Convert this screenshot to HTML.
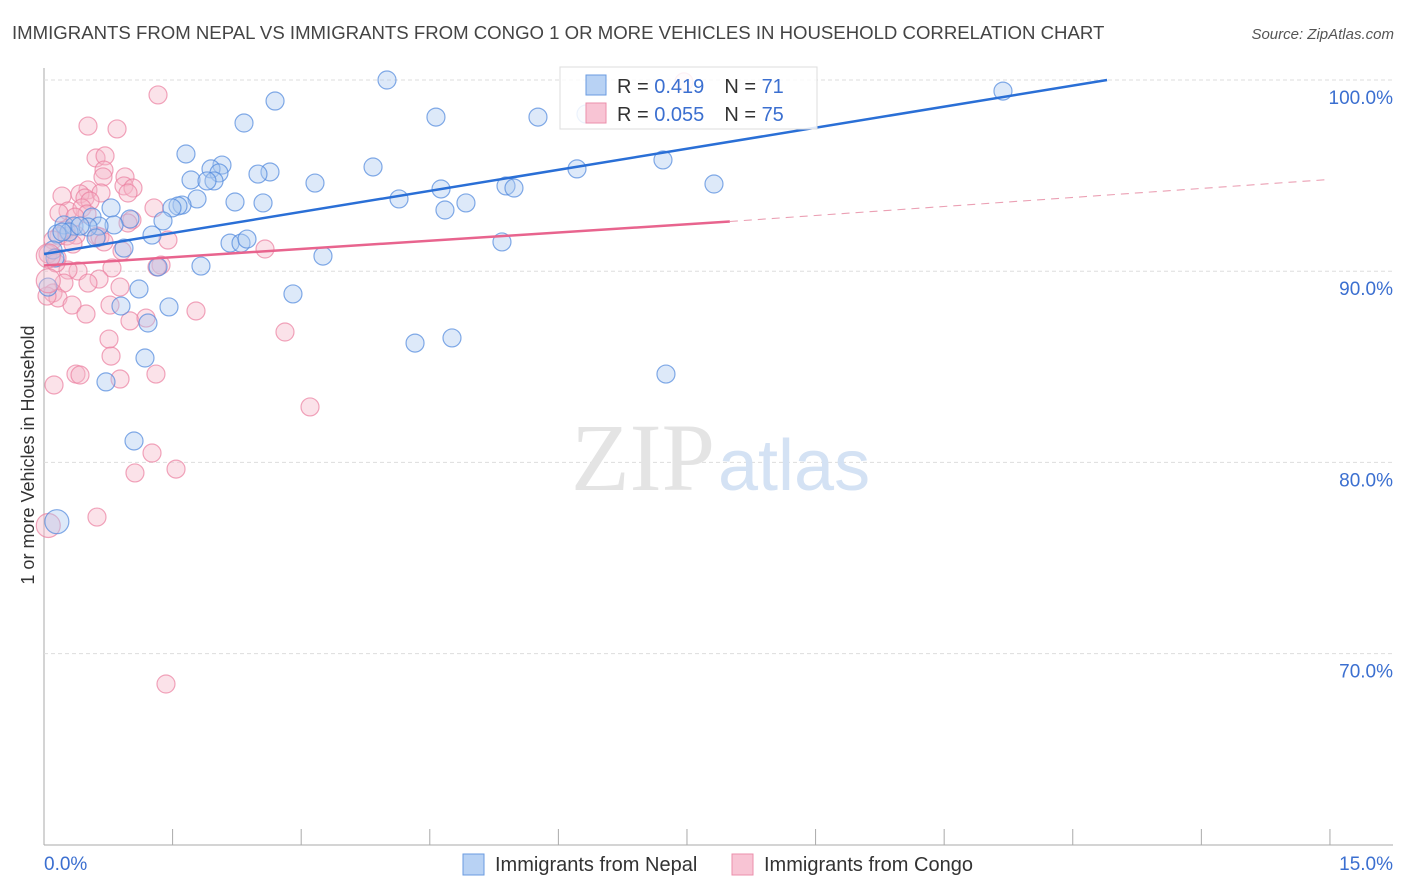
<!DOCTYPE html>
<html><head><meta charset="utf-8"><style>
body{margin:0;background:#fff;font-family:"Liberation Sans",sans-serif;}
svg{display:block}
</style></head><body>
<svg id="c" width="1406" height="892">
<text x="12" y="39" font-size="18.6" fill="#444">IMMIGRANTS FROM NEPAL VS IMMIGRANTS FROM CONGO 1 OR MORE VEHICLES IN HOUSEHOLD CORRELATION CHART</text>
<text x="1394" y="39" font-size="15" fill="#555" font-style="italic" text-anchor="end">Source: ZipAtlas.com</text>
<text x="34" y="455" font-size="18" fill="#333" text-anchor="middle" transform="rotate(-90 34 455)">1 or more Vehicles in Household</text>
<g id="grid"></g>
<text x="715" y="490" font-size="96" fill="#e4e4e4" font-family="Liberation Serif,serif" text-anchor="end">ZIP</text>
<text x="718" y="490" font-size="72" fill="#d4e2f4">atlas</text>
<g id="pts"></g>
<g id="lines"></g>
<rect x="560" y="67" width="257" height="62" fill="#fff" fill-opacity="0.85" stroke="#ddd"/>
<rect x="586" y="75" width="20" height="20" fill="#b8d2f4" stroke="#6a9be0"/>
<rect x="586" y="103" width="20" height="20" fill="#f8c4d4" stroke="#eb8fab"/>
<text x="617" y="93" font-size="20" fill="#333">R = <tspan fill="#3b6fd0">0.419</tspan><tspan dx="20">N = </tspan><tspan fill="#3b6fd0">71</tspan></text>
<text x="617" y="121" font-size="20" fill="#333">R = <tspan fill="#3b6fd0">0.055</tspan><tspan dx="20">N = </tspan><tspan fill="#3b6fd0">75</tspan></text>
<rect x="463" y="854" width="21" height="21" fill="#b8d2f4" stroke="#6a9be0"/>
<text x="495" y="871" font-size="20" fill="#333">Immigrants from Nepal</text>
<rect x="732" y="854" width="21" height="21" fill="#f8c4d4" stroke="#eb8fab"/>
<text x="764" y="871" font-size="20" fill="#333">Immigrants from Congo</text>
</svg>
<script>
const NS="http://www.w3.org/2000/svg";
const yTicks=[100,90,80,70];
const xTickLabels=["0.0%","15.0%"];
const nepalPx=[[387,80],[275,101],[1003,91],[436,117],[538,117],[586,114],[244,123],[186,154],[663,160],[373,167],[222,165],[211,169],[270,172],[258,174],[219,173],[191,180],[214,181],[207,181],[577,169],[315,183],[714,184],[441,189],[506,186],[514,188],[399,199],[197,199],[235,202],[263,203],[466,203],[182,205],[178,206],[172,208],[445,210],[111,208],[163,221],[92,217],[130,219],[64,225],[114,225],[74,226],[99,226],[88,227],[69,232],[57,234],[152,235],[96,238],[124,248],[230,243],[241,243],[247,239],[502,242],[53,250],[323,256],[158,267],[201,266],[55,258],[293,294],[139,289],[121,306],[169,307],[148,323],[415,343],[452,338],[145,358],[106,382],[666,374],[134,441],[48,287],[62,232],[80,226]];
const congoPx=[[158,95],[88,126],[117,129],[96,158],[105,156],[104,170],[103,177],[125,177],[124,186],[133,188],[88,190],[62,196],[80,194],[85,198],[101,193],[128,193],[90,201],[68,211],[82,208],[154,208],[59,213],[87,214],[75,217],[132,220],[128,223],[66,230],[59,236],[76,235],[97,236],[100,237],[168,240],[53,240],[122,251],[265,249],[57,258],[48,254],[112,268],[161,265],[78,271],[68,270],[64,283],[99,279],[120,287],[88,283],[53,293],[58,298],[72,305],[110,305],[196,311],[86,314],[130,321],[146,318],[285,332],[109,339],[111,356],[76,374],[80,375],[120,379],[156,374],[54,385],[310,407],[152,453],[176,469],[135,473],[97,517],[166,684],[684,82],[595,113],[157,267],[56,263],[47,296],[67,236],[73,244],[104,242]];
const nepalX=nepalPx.map(p=>+((p[0]-44)/85.73).toFixed(3));
const nepalY=nepalPx.map(p=>+(100-(p[1]-80)/19.12).toFixed(2));
const congoX=congoPx.map(p=>+((p[0]-44)/85.73).toFixed(3));
const congoY=congoPx.map(p=>+(100-(p[1]-80)/19.12).toFixed(2));
const nepalBig=[[0.15,76.9]];
const congoBig=[[0.05,76.7],[0.05,90.8],[0.05,89.5]];
const nepalTrend=[[0,90.9],[12.4,100]];
const congoTrend=[[0,90.3],[8.0,92.6],[15,94.8]];
const X=v=>44+v*85.73, Y=v=>80+(100-v)*19.12;
const grid=document.getElementById('grid');
function mk(tag,attrs,parent){const e=document.createElementNS(NS,tag);for(const k in attrs)e.setAttribute(k,attrs[k]);parent.appendChild(e);return e;}
let e=mk('line',{x1:44,y1:68,x2:44,y2:845,stroke:'#aaa'},grid);


e=mk('line',{x1:44,y1:845,x2:1393,y2:845,stroke:'#aaa'},grid);


yTicks.forEach(t=>{
 let g=mk('line',{x1:44,y1:Y(t),x2:1393,y2:Y(t),stroke:'#ddd','stroke-dasharray':'4,3'},grid);
 
 
 let l=mk('text',{x:1393,y:Y(t)+24,'font-size':19,fill:'#3b6fd0','text-anchor':'end'},grid);
 l.textContent=t.toFixed(1)+'%';
 
 
});
for(let i=0;i<=10;i++){
 let t=mk('line',{x1:X(i*1.5),y1:829,x2:X(i*1.5),y2:845,stroke:'#aaa'},grid);
 
 
}
let xl=mk('text',{x:44,y:870,'font-size':19,fill:'#3b6fd0'},grid);xl.textContent=xTickLabels[0];


xl=mk('text',{x:1393,y:870,'font-size':19,fill:'#3b6fd0','text-anchor':'end'},grid);xl.textContent=xTickLabels[1];


const pts=document.getElementById('pts');
function dots(xs,ys,fill,stroke,name,r){xs.forEach((x,i)=>{let c=mk('circle',{cx:X(x),cy:Y(ys[i]),r:r,fill:fill,'fill-opacity':0.4,stroke:stroke,'stroke-opacity':0.7,'stroke-width':1.2},pts);
 
 });}
dots(congoX,congoY,'#f6b6c9','#eb7fa0','congo-point',9);
dots(nepalX,nepalY,'#a9c9f1','#4f88dd','nepal-point',9);
dots(congoBig.map(p=>p[0]),congoBig.map(p=>p[1]),'#f6b6c9','#eb7fa0','congo-point',12);
dots(nepalBig.map(p=>p[0]),nepalBig.map(p=>p[1]),'#a9c9f1','#4f88dd','nepal-point',12);
const ln=document.getElementById('lines');
let a=mk('line',{x1:X(nepalTrend[0][0]),y1:Y(nepalTrend[0][1]),x2:X(nepalTrend[1][0]),y2:Y(nepalTrend[1][1]),stroke:'#2a6fd6','stroke-width':2.5},ln);


a=mk('line',{x1:X(congoTrend[0][0]),y1:Y(congoTrend[0][1]),x2:X(congoTrend[1][0]),y2:Y(congoTrend[1][1]),stroke:'#e8648e','stroke-width':2.5},ln);


a=mk('line',{x1:X(congoTrend[1][0]),y1:Y(congoTrend[1][1]),x2:X(congoTrend[2][0]),y2:Y(congoTrend[2][1]),stroke:'#eba0b4','stroke-width':1.1,'stroke-dasharray':'8,6'},ln);


</script>
</body></html>
